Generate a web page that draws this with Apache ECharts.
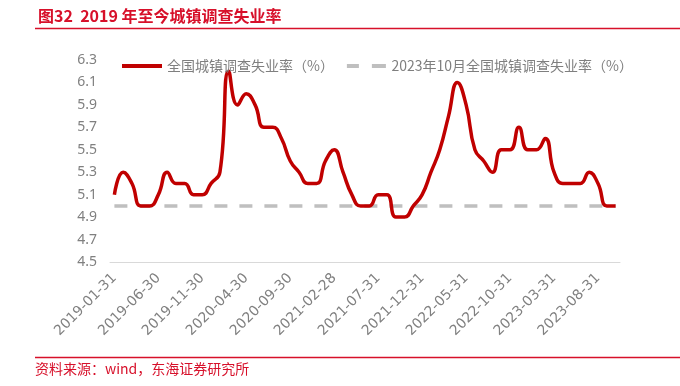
<!DOCTYPE html>
<html><head><meta charset="utf-8">
<script src="https://cdn.jsdelivr.net/npm/echarts@6/dist/echarts.min.js"></script>
<style>html,body{margin:0;padding:0;background:#fff;}#c{width:680px;height:386px;}</style>
</head><body><div id="c"></div>
<script>
var categories = [];
var monthEnds = ['01-31','02-28','03-31','04-30','05-31','06-30','07-31','08-31','09-30','10-31','11-30','12-31'];
var years = [2019, 2020, 2021, 2022, 2023];
years.forEach(function (y) {
  monthEnds.forEach(function (m, i) {
    if (y === 2023 && i > 9) return;
    var d = m;
    if (i === 1) d = (y % 4 === 0) ? '02-29' : '02-28';
    categories.push(y + '-' + d);
  });
});
var rateValues = [
  5.1, 5.3, 5.2, 5.0, 5.0, 5.1, 5.3, 5.2, 5.2, 5.1, 5.1, 5.2,
  5.3, 6.2, 5.9, 6.0, 5.9, 5.7, 5.7, 5.6, 5.4, 5.3, 5.2, 5.2,
  5.4, 5.5, 5.3, 5.1, 5.0, 5.0, 5.1, 5.1, 4.9, 4.9, 5.0, 5.1,
  5.3, 5.5, 5.8, 6.1, 5.9, 5.5, 5.4, 5.3, 5.5, 5.5, 5.7, 5.5,
  5.5, 5.6, 5.3, 5.2, 5.2, 5.2, 5.3, 5.2, 5.0, 5.0
];
var refValue = 5.0;
var refValues = categories.map(function () { return refValue; });
var seriesNames = ['全国城镇调查失业率（%）', '2023年10月全国城镇调查失业率（%）'];
var yTicks = [4.5, 4.7, 4.9, 5.1, 5.3, 5.5, 5.7, 5.9, 6.1, 6.3];

var chart = echarts.init(document.getElementById('c'), null, {renderer: 'canvas'});
var font = '"Noto Sans CJK SC", "Noto Sans", sans-serif';
chart.setOption({
  animation: false,
  backgroundColor: '#fff',
  textStyle: {fontFamily: font},
  title: {
    text: '图32  2019 年至今城镇调查失业率',
    left: 33, top: 3,
    textStyle: {color: '#d7102a', fontSize: 16, fontWeight: 'bold', fontFamily: font}
  },
  graphic: [
    {type: 'line', shape: {x1: 35, y1: 28.5, x2: 680, y2: 28.5}, style: {stroke: '#d7102a', lineWidth: 1.5}},
    {type: 'line', shape: {x1: 35, y1: 357.5, x2: 680, y2: 357.5}, style: {stroke: '#d7102a', lineWidth: 1.5}},
    {type: 'text', left: 35, top: 362, style: {text: '资料来源：wind，东海证券研究所', fill: '#d7102a', font: '14px ' + font}}
  ],
  legend: {
    top: 54, left: 117,
    itemWidth: 40, itemHeight: 4, itemGap: 13,
    textStyle: {color: '#7f7f7f', fontSize: 14, fontFamily: font},
    data: [
      {name: seriesNames[0], icon: 'path://M0,0 L40,0 L40,4 L0,4 Z', itemStyle: {color: '#c00000'}},
      {name: seriesNames[1], icon: 'path://M0,0 L12,0 L12,4 L0,4 Z M25,0 L39,0 L39,4 L25,4 Z', itemStyle: {color: '#bfbfbf'}}
    ]
  },
  grid: {left: 110, right: 60, top: 60, bottom: 124, containLabel: false},
  xAxis: {
    type: 'category',
    data: categories,
    boundaryGap: true,
    axisLine: {lineStyle: {color: '#d9d9d9', width: 1}},
    axisTick: {show: false},
    axisLabel: {interval: 4, rotate: 45, color: '#808080', fontSize: 14, fontFamily: '"DejaVu Sans", sans-serif', margin: 14}
  },
  yAxis: {
    type: 'value',
    min: yTicks[0], max: yTicks[yTicks.length - 1], interval: 0.2,
    axisLine: {show: false},
    axisTick: {show: false},
    splitLine: {show: false},
    axisLabel: {color: '#808080', fontSize: 14, fontFamily: '"Noto Sans", sans-serif', margin: 13,
      formatter: function (v) { return v.toFixed(1); }}
  },
  series: [
    {
      name: seriesNames[1], type: 'line', data: refValues, symbol: 'none',
      lineStyle: {color: '#bfbfbf', width: 3.5, type: [13, 12], cap: 'butt'},
      itemStyle: {color: '#bfbfbf'}, z: 1
    },
    {
      name: seriesNames[0], type: 'line', data: rateValues, symbol: 'none', smooth: 0.5,
      lineStyle: {color: '#c00000', width: 3.5},
      itemStyle: {color: '#c00000'}, z: 2
    }
  ]
});
</script></body></html>
